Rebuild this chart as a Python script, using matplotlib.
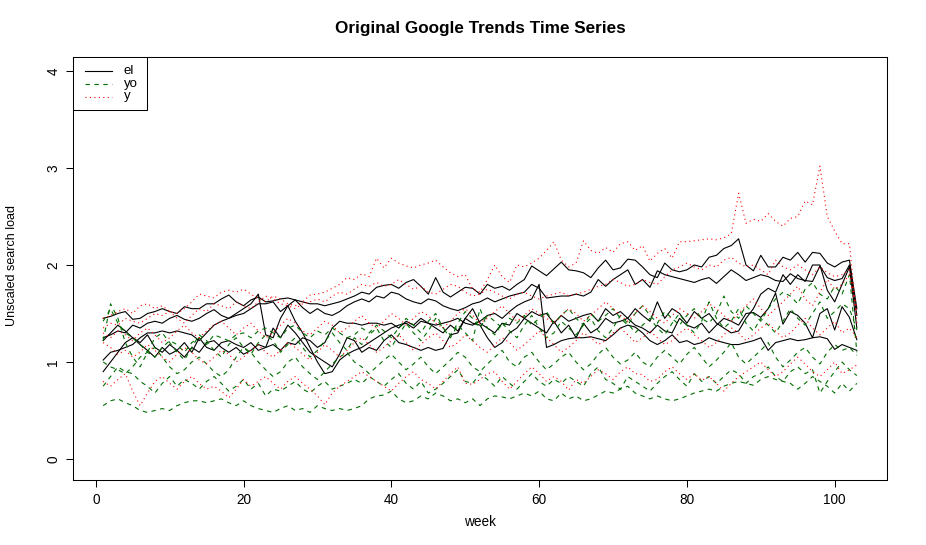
import matplotlib
matplotlib.use('Agg')
import matplotlib.pyplot as plt
from matplotlib.patches import Rectangle

plt.rcParams['font.family'] = ['Liberation Sans', 'DejaVu Sans']

weeks = list(range(1, 104))

# ---- "el" series (black, solid) ----
el_1 = [1.45, 1.47, 1.50, 1.52, 1.44, 1.45, 1.50, 1.52, 1.55, 1.52, 1.50, 1.57, 1.55,
        1.55, 1.60, 1.60, 1.65, 1.69, 1.62, 1.58, 1.64, 1.67, 1.62, 1.63, 1.65, 1.66,
        1.64, 1.62, 1.60, 1.60, 1.58, 1.60, 1.62, 1.65, 1.68, 1.72, 1.70, 1.77, 1.79,
        1.80, 1.76, 1.82, 1.85, 1.78, 1.70, 1.87, 1.72, 1.67, 1.72, 1.77, 1.76, 1.70,
        1.80, 1.76, 1.78, 1.74, 1.80, 1.85, 1.99, 1.94, 1.89, 1.96, 2.03, 1.95, 1.94,
        1.92, 1.87, 1.97, 2.05, 1.95, 1.97, 2.06, 2.05, 1.98, 1.90, 1.87, 2.02, 1.95,
        1.93, 1.95, 2.00, 1.98, 2.08, 2.10, 2.17, 2.20, 2.27, 2.00, 1.94, 2.10, 1.98,
        1.98, 2.08, 2.05, 2.13, 2.03, 2.13, 2.12, 2.02, 1.98, 2.03, 2.05, 1.55]
el_2 = [1.25, 1.28, 1.32, 1.30, 1.38, 1.35, 1.40, 1.42, 1.40, 1.45, 1.48, 1.44, 1.42,
        1.45, 1.50, 1.54, 1.48, 1.45, 1.48, 1.50, 1.55, 1.60, 1.60, 1.62, 1.52, 1.58,
        1.64, 1.56, 1.50, 1.55, 1.50, 1.48, 1.52, 1.58, 1.62, 1.65, 1.62, 1.68, 1.66,
        1.72, 1.70, 1.65, 1.62, 1.60, 1.65, 1.63, 1.58, 1.55, 1.53, 1.56, 1.60, 1.62,
        1.66, 1.62, 1.65, 1.68, 1.70, 1.72, 1.80, 1.76, 1.66, 1.67, 1.68, 1.68, 1.70,
        1.68, 1.72, 1.85, 1.78, 1.85, 1.90, 1.95, 1.80, 1.85, 1.77, 1.94, 1.90, 1.88,
        1.86, 1.84, 1.82, 1.85, 1.87, 1.81, 1.88, 1.95, 1.90, 1.84, 1.87, 1.90, 1.88,
        1.84, 1.83, 1.91, 1.86, 1.84, 1.83, 1.99, 1.87, 1.84, 1.86, 2.00, 1.48]
el_3 = [1.02, 1.10, 1.12, 1.15, 1.18, 1.25, 1.30, 1.30, 1.32, 1.30, 1.32, 1.30, 1.28,
        1.22, 1.30, 1.38, 1.42, 1.45, 1.50, 1.55, 1.60, 1.70, 1.28, 1.25, 1.45, 1.58,
        1.42, 1.30, 1.15, 1.00, 0.88, 0.90, 1.02, 1.08, 1.12, 1.15, 1.20, 1.25, 1.30,
        1.35, 1.38, 1.40, 1.35, 1.42, 1.40, 1.38, 1.40, 1.42, 1.45, 1.40, 1.38, 1.42,
        1.48, 1.50, 1.45, 1.52, 1.58, 1.62, 1.65, 1.80, 1.15, 1.18, 1.22, 1.24, 1.25,
        1.25, 1.26, 1.24, 1.22, 1.28, 1.35, 1.38, 1.36, 1.30, 1.22, 1.18, 1.22, 1.28,
        1.20, 1.22, 1.18, 1.20, 1.25, 1.22, 1.20, 1.18, 1.18, 1.20, 1.22, 1.25, 1.12,
        1.20, 1.22, 1.24, 1.22, 1.23, 1.25, 1.26, 1.24, 1.13, 1.18, 1.15, 1.12]
el_4 = [0.90, 1.00, 1.10, 1.20, 1.25, 1.18, 1.12, 1.05, 1.15, 1.08, 1.12, 1.05, 1.15,
        1.10, 1.20, 1.22, 1.15, 1.10, 1.15, 1.08, 1.12, 1.18, 1.15, 1.35, 1.25, 1.38,
        1.30, 1.20, 1.10, 1.05, 1.00, 0.95, 1.08, 1.25, 1.22, 1.10, 1.15, 1.12, 1.22,
        1.28, 1.20, 1.18, 1.15, 1.12, 1.15, 1.12, 1.14, 1.28, 1.30, 1.45, 1.40, 1.38,
        1.25, 1.15, 1.20, 1.30, 1.35, 1.45, 1.40, 1.35, 1.30, 1.42, 1.30, 1.38, 1.25,
        1.40, 1.30, 1.35, 1.45, 1.40, 1.42, 1.45, 1.38, 1.35, 1.30, 1.38, 1.32, 1.30,
        1.45, 1.38, 1.35, 1.40, 1.30, 1.38, 1.45, 1.42, 1.38, 1.50, 1.51, 1.46, 1.55,
        1.71, 1.39, 1.52, 1.48, 1.40, 1.25, 1.50, 1.55, 1.33, 1.57, 1.46, 1.23]
el_5 = [1.22, 1.30, 1.38, 1.32, 1.25, 1.20, 1.28, 1.15, 1.10, 1.18, 1.12, 1.20, 1.10,
        1.25, 1.15, 1.12, 1.20, 1.22, 1.18, 1.15, 1.20, 1.12, 1.15, 1.18, 1.12, 1.20,
        1.18, 1.25, 1.22, 1.15, 1.20, 1.35, 1.42, 1.40, 1.40, 1.38, 1.40, 1.40, 1.38,
        1.40, 1.35, 1.42, 1.38, 1.45, 1.40, 1.35, 1.30, 1.38, 1.32, 1.45, 1.55, 1.40,
        1.35, 1.30, 1.40, 1.38, 1.50, 1.45, 1.52, 1.48, 1.50, 1.40, 1.48, 1.42, 1.45,
        1.48, 1.50, 1.42, 1.55, 1.48, 1.52, 1.45, 1.55, 1.48, 1.42, 1.62, 1.45, 1.55,
        1.50, 1.40, 1.52, 1.45, 1.50, 1.40, 1.35, 1.30, 1.32, 1.45, 1.55, 1.70, 1.76,
        1.72, 1.90, 1.80, 1.90, 1.83, 2.00, 2.00, 1.74, 1.62, 1.80, 1.98, 1.35]

# ---- "yo" series (green, dashed) ----
yo_1 = [0.55, 0.60, 0.62, 0.58, 0.55, 0.50, 0.48, 0.50, 0.52, 0.50, 0.55, 0.58, 0.60,
        0.60, 0.58, 0.60, 0.62, 0.58, 0.55, 0.60, 0.55, 0.52, 0.50, 0.48, 0.52, 0.55,
        0.50, 0.52, 0.48, 0.55, 0.52, 0.50, 0.52, 0.50, 0.52, 0.55, 0.62, 0.65, 0.66,
        0.70, 0.62, 0.58, 0.60, 0.65, 0.62, 0.68, 0.65, 0.60, 0.62, 0.58, 0.62, 0.55,
        0.62, 0.65, 0.64, 0.62, 0.65, 0.68, 0.65, 0.70, 0.62, 0.60, 0.68, 0.62, 0.65,
        0.60, 0.62, 0.66, 0.70, 0.68, 0.72, 0.75, 0.68, 0.65, 0.62, 0.65, 0.62, 0.60,
        0.62, 0.65, 0.68, 0.70, 0.72, 0.70, 0.75, 0.78, 0.80, 0.78, 0.76, 0.82, 0.85,
        0.82, 0.80, 0.78, 0.72, 0.78, 0.85, 0.80, 0.75, 0.68, 0.78, 0.70, 0.78]
yo_2 = [0.75, 0.85, 0.95, 0.90, 0.88, 0.80, 0.75, 0.68, 0.78, 0.85, 0.75, 0.82, 0.78,
        0.72, 0.80, 0.85, 0.78, 0.70, 0.75, 0.82, 0.72, 0.78, 0.65, 0.72, 0.70, 0.75,
        0.80, 0.72, 0.68, 0.75, 0.80, 0.72, 0.75, 0.78, 0.82, 0.78, 0.85, 0.80, 0.75,
        0.82, 0.88, 0.78, 0.72, 0.80, 0.68, 0.72, 0.78, 0.85, 0.92, 0.80, 0.78, 0.88,
        0.82, 0.75, 0.85, 0.78, 0.72, 0.80, 0.88, 0.80, 0.75, 0.82, 0.78, 0.85, 0.80,
        0.75, 0.88, 0.95, 0.82, 0.78, 0.72, 0.85, 0.80, 0.75, 0.70, 0.78, 0.85, 0.90,
        0.82, 0.75, 0.88, 0.80, 0.85, 0.78, 0.85, 0.92, 0.88, 0.78, 0.85, 0.88, 0.95,
        0.85, 0.80, 0.90, 0.95, 0.88, 0.92, 0.68, 0.80, 0.90, 1.00, 0.92, 0.86]
yo_3 = [1.00, 0.95, 0.92, 0.88, 0.95, 1.05, 1.10, 1.15, 1.05, 0.95, 0.88, 0.92, 1.00,
        1.05, 0.98, 0.90, 0.85, 0.92, 1.05, 1.15, 1.10, 1.00, 0.92, 0.85, 0.90, 1.00,
        1.05, 0.95, 0.88, 0.82, 0.90, 0.98, 1.05, 1.10, 1.00, 0.95, 0.88, 0.95, 1.02,
        1.08, 1.00, 0.92, 0.98, 1.05, 0.95, 0.88, 0.95, 1.02, 1.10, 1.05, 0.95, 0.90,
        0.98, 1.05, 1.12, 1.00, 0.95, 1.05, 1.10, 1.00, 0.92, 0.98, 1.05, 1.10, 1.00,
        0.92, 0.98, 1.08, 1.15, 1.05, 0.98, 1.02, 1.10, 1.00, 0.95, 1.05, 1.12, 1.05,
        0.98, 1.08, 1.15, 1.05, 0.95, 1.02, 1.10, 1.20, 1.05, 0.98, 1.05, 1.12, 1.20,
        1.05, 0.95, 1.02, 1.10, 1.15, 1.05, 0.98, 1.10, 1.18, 1.12, 1.15, 1.07]
yo_4 = [1.22, 1.60, 1.45, 1.20, 1.05, 0.95, 1.10, 1.25, 1.30, 1.20, 1.10, 1.02, 1.15,
        1.28, 1.22, 1.12, 1.05, 1.18, 1.25, 1.15, 1.08, 1.20, 1.28, 1.22, 1.10, 1.18,
        1.25, 1.15, 1.05, 1.12, 1.22, 1.30, 1.20, 1.12, 1.25, 1.18, 1.28, 1.35, 1.22,
        1.15, 1.28, 1.40, 1.30, 1.22, 1.32, 1.45, 1.35, 1.25, 1.38, 1.30, 1.22, 1.55,
        1.35, 1.28, 1.40, 1.32, 1.25, 1.38, 1.48, 1.35, 1.25, 1.30, 1.42, 1.35, 1.28,
        1.38, 1.45, 1.32, 1.25, 1.35, 1.48, 1.40, 1.30, 1.38, 1.45, 1.35, 1.28, 1.40,
        1.50, 1.38, 1.30, 1.42, 1.62, 1.45, 1.35, 1.42, 1.55, 1.40, 1.32, 1.45, 1.38,
        1.30, 1.42, 1.55, 1.45, 1.38, 1.50, 1.62, 1.45, 1.52, 1.60, 1.55, 1.33]
yo_5 = [1.42, 1.55, 1.40, 1.30, 1.25, 1.18, 1.10, 1.05, 1.15, 1.22, 1.18, 1.10, 1.20,
        1.25, 1.18, 1.28, 1.25, 1.22, 1.28, 1.30, 1.25, 1.32, 1.35, 1.30, 1.25, 1.35,
        1.38, 1.30, 1.25, 1.32, 1.28, 1.35, 1.30, 1.25, 1.28, 1.35, 1.30, 1.38, 1.32,
        1.25, 1.35, 1.45, 1.38, 1.30, 1.42, 1.50, 1.35, 1.28, 1.40, 1.52, 1.45, 1.35,
        1.48, 1.42, 1.35, 1.45, 1.40, 1.48, 1.38, 1.45, 1.52, 1.40, 1.48, 1.55, 1.45,
        1.38, 1.50, 1.42, 1.48, 1.55, 1.45, 1.38, 1.50, 1.58, 1.48, 1.40, 1.52, 1.45,
        1.38, 1.48, 1.55, 1.45, 1.40, 1.50, 1.68, 1.52, 1.45, 1.58, 1.50, 1.42, 1.55,
        1.65, 1.72, 1.68, 1.60, 1.75, 1.82, 1.70, 1.65, 1.78, 1.70, 1.90, 1.10]

# ---- "y" series (red, dotted) ----
y_1 = [1.45, 1.48, 1.52, 1.55, 1.50, 1.58, 1.60, 1.55, 1.58, 1.52, 1.50, 1.55, 1.62,
       1.70, 1.68, 1.66, 1.72, 1.74, 1.72, 1.75, 1.70, 1.65, 1.62, 1.68, 1.65, 1.60,
       1.58, 1.62, 1.69, 1.70, 1.72, 1.76, 1.80, 1.87, 1.85, 1.91, 1.88, 2.07, 1.97,
       2.07, 2.02, 1.99, 1.97, 2.00, 2.02, 2.05, 1.98, 1.92, 1.88, 1.90, 1.75, 1.72,
       1.85, 2.00, 1.88, 1.82, 2.00, 1.98, 2.02, 2.07, 2.15, 2.24, 2.05, 1.98, 2.02,
       2.25, 2.15, 2.12, 2.18, 2.13, 2.22, 2.24, 2.15, 2.20, 2.04, 2.12, 2.17, 2.07,
       2.24, 2.24, 2.25, 2.26, 2.27, 2.26, 2.28, 2.32, 2.74, 2.43, 2.47, 2.45, 2.53,
       2.45, 2.40, 2.48, 2.50, 2.66, 2.62, 3.02, 2.50, 2.35, 2.22, 2.22, 1.40]
y_2 = [1.35, 1.40, 1.38, 1.45, 1.42, 1.40, 1.45, 1.50, 1.48, 1.52, 1.45, 1.40, 1.48,
       1.55, 1.52, 1.60, 1.58, 1.55, 1.62, 1.58, 1.55, 1.62, 1.68, 1.65, 1.60, 1.58,
       1.55, 1.60, 1.62, 1.65, 1.62, 1.68, 1.72, 1.70, 1.75, 1.80, 1.78, 1.82, 1.78,
       1.80, 1.85, 1.80, 1.75, 1.78, 1.72, 1.70, 1.75, 1.80, 1.78, 1.72, 1.68, 1.70,
       1.75, 1.72, 1.68, 1.65, 1.70, 1.72, 1.68, 1.65, 1.68, 1.70, 1.72, 1.68, 1.70,
       1.72, 1.75, 1.78, 1.80, 1.85, 1.82, 1.78, 1.80, 1.85, 1.82, 1.80, 1.88, 1.95,
       1.98, 2.02, 1.98, 1.95, 2.00, 1.98, 2.05, 2.08, 2.02, 1.98, 2.00, 1.95, 1.90,
       2.05, 1.98, 1.95, 2.00, 1.95, 1.90, 1.98, 1.92, 1.88, 1.90, 1.95, 1.55]
y_3 = [1.30, 1.25, 1.32, 1.28, 1.22, 1.30, 1.35, 1.28, 1.20, 1.25, 1.32, 1.38, 1.30,
       1.25, 1.32, 1.38, 1.42, 1.35, 1.28, 1.35, 1.40, 1.32, 1.25, 1.30, 1.38, 1.45,
       1.40, 1.32, 1.28, 1.35, 1.42, 1.38, 1.30, 1.35, 1.42, 1.48, 1.40, 1.35, 1.42,
       1.50, 1.45, 1.38, 1.45, 1.52, 1.48, 1.40, 1.35, 1.42, 1.50, 1.55, 1.48, 1.40,
       1.45, 1.52, 1.58, 1.50, 1.42, 1.48, 1.55, 1.50, 1.45, 1.40, 1.48, 1.55, 1.50,
       1.42, 1.48, 1.55, 1.62, 1.55, 1.48, 1.42, 1.50, 1.58, 1.52, 1.45, 1.40, 1.48,
       1.55, 1.50, 1.45, 1.52, 1.60, 1.55, 1.48, 1.42, 1.50, 1.58, 1.65, 1.55, 1.48,
       1.55, 1.62, 1.70, 1.78, 1.65, 1.58, 1.72, 1.85, 1.75, 1.80, 1.90, 1.50]
y_4 = [1.20, 1.15, 1.08, 1.12, 1.05, 1.10, 1.18, 1.12, 1.05, 1.00, 1.08, 1.15, 1.10,
       1.02, 0.98, 1.05, 1.12, 1.08, 1.00, 1.05, 1.12, 1.18, 1.10, 1.05, 1.12, 1.20,
       1.15, 1.08, 1.02, 1.10, 1.18, 1.12, 1.05, 1.12, 1.20, 1.25, 1.18, 1.10, 1.15,
       1.22, 1.28, 1.20, 1.12, 1.18, 1.25, 1.30, 1.22, 1.15, 1.20, 1.28, 1.22, 1.15,
       1.10, 1.18, 1.25, 1.20, 1.12, 1.18, 1.25, 1.32, 1.25, 1.18, 1.10, 1.15, 1.22,
       1.30, 1.25, 1.18, 1.22, 1.30, 1.35, 1.28, 1.20, 1.25, 1.32, 1.25, 1.18, 1.22,
       1.30, 1.35, 1.28, 1.22, 1.15, 1.20, 1.28, 1.35, 1.30, 1.22, 1.28, 1.35, 1.40,
       1.32, 1.25, 1.30, 1.38, 1.45, 1.35, 1.28, 1.35, 1.42, 1.30, 1.35, 1.25]
y_5 = [0.80, 0.75, 0.82, 0.88, 0.70, 0.55, 0.68, 0.80, 0.85, 0.78, 0.72, 0.80, 0.85,
       0.78, 0.72, 0.75, 0.70, 0.63, 0.72, 0.82, 0.75, 0.80, 0.85, 0.78, 0.72, 0.80,
       0.85, 0.78, 0.72, 0.65, 0.56, 0.68, 0.75, 0.80, 0.85, 0.90, 0.85, 0.80, 0.75,
       0.70, 0.78, 0.85, 0.90, 0.82, 0.78, 0.72, 0.80, 0.88, 0.95, 0.78, 0.77, 0.82,
       0.88, 0.90, 0.80, 0.72, 0.80, 0.88, 0.95, 0.88, 0.80, 0.85, 0.80, 0.71, 0.82,
       0.78, 0.85, 0.92, 0.88, 0.82, 0.90, 0.95, 0.88, 0.87, 0.80, 0.82, 0.90, 0.95,
       0.88, 0.82, 0.88, 0.81, 0.85, 0.78, 0.70, 0.78, 0.85, 0.90, 0.95, 1.00, 0.92,
       0.85, 0.90, 0.98, 1.05, 0.98, 0.90, 0.85, 0.92, 1.00, 0.88, 0.92, 0.97]

legend_labels = ['el', 'yo', 'y']
x_ticks = [0, 20, 40, 60, 80, 100]
y_ticks = [0, 1, 2, 3, 4]

groups = [
    ([el_1, el_2, el_3, el_4, el_5], 'black', '-'),
    ([yo_1, yo_2, yo_3, yo_4, yo_5], '#006f00', (0, (4, 4))),
    ([y_1, y_2, y_3, y_4, y_5], '#ff0000', (0, (1, 3))),
]

W, H = 926, 545
fig = plt.figure(figsize=(W / 100, H / 100), dpi=100)
L, R, T, B = 73, 887, 57, 480
ax = fig.add_axes([L / W, 1 - B / H, (R - L) / W, (B - T) / H])

for series_list, col, ls in groups:
    for s in series_list:
        ax.plot(weeks, s, color=col, linestyle=ls, linewidth=0.8)

ax.set_xlim(-3.08, 107.08)
ax.set_ylim(-0.2165, 4.1443)
ax.set_xticks(x_ticks)
ax.set_yticks(y_ticks)
ax.tick_params(direction='out', length=5, width=0.75, labelsize=9.8, pad=4, colors='black')
for lab in ax.get_yticklabels():
    lab.set_rotation(90)
    lab.set_va('center')
for sp in ax.spines.values():
    sp.set_linewidth(0.75)
    sp.set_color('black')

# legend box drawn in pixel geometry of the reference (top-left corner of plot)
def px(xp, yp):
    return ((xp - L) / (R - L), (B - yp) / (B - T))

x0, y0 = px(73, 110)
x1, y1 = px(147, 57)
ax.add_patch(Rectangle((x0, y0), x1 - x0, y1 - y0, transform=ax.transAxes,
                       facecolor='white', edgecolor='black', linewidth=0.75, zorder=5))
row_y = [70.5, 83.5, 96.5]
for (_, col, ls), lab, ry in zip(groups, legend_labels, row_y):
    lx0, ly = px(85, ry)
    lx1, _ = px(112, ry)
    ax.plot([lx0, lx1], [ly, ly], transform=ax.transAxes, color=col, linestyle=ls,
            linewidth=0.8, zorder=6, clip_on=False)
    tx, _ = px(124, ry)
    ax.text(tx, ly, lab, transform=ax.transAxes, ha='left', va='center',
            fontsize=9.5, zorder=6)

fig.text(480 / W, 1 - 28 / H, 'Original Google Trends Time Series', ha='center', va='center',
         fontsize=12.3, fontweight='bold')
fig.text(480 / W, 1 - 522 / H, 'week', ha='center', va='center', fontsize=9.8)
fig.text(12 / W, 1 - 265 / H, 'Unscaled search load', ha='center', va='center',
         rotation=90, fontsize=9.0)

fig.savefig('out.png', dpi=100)
